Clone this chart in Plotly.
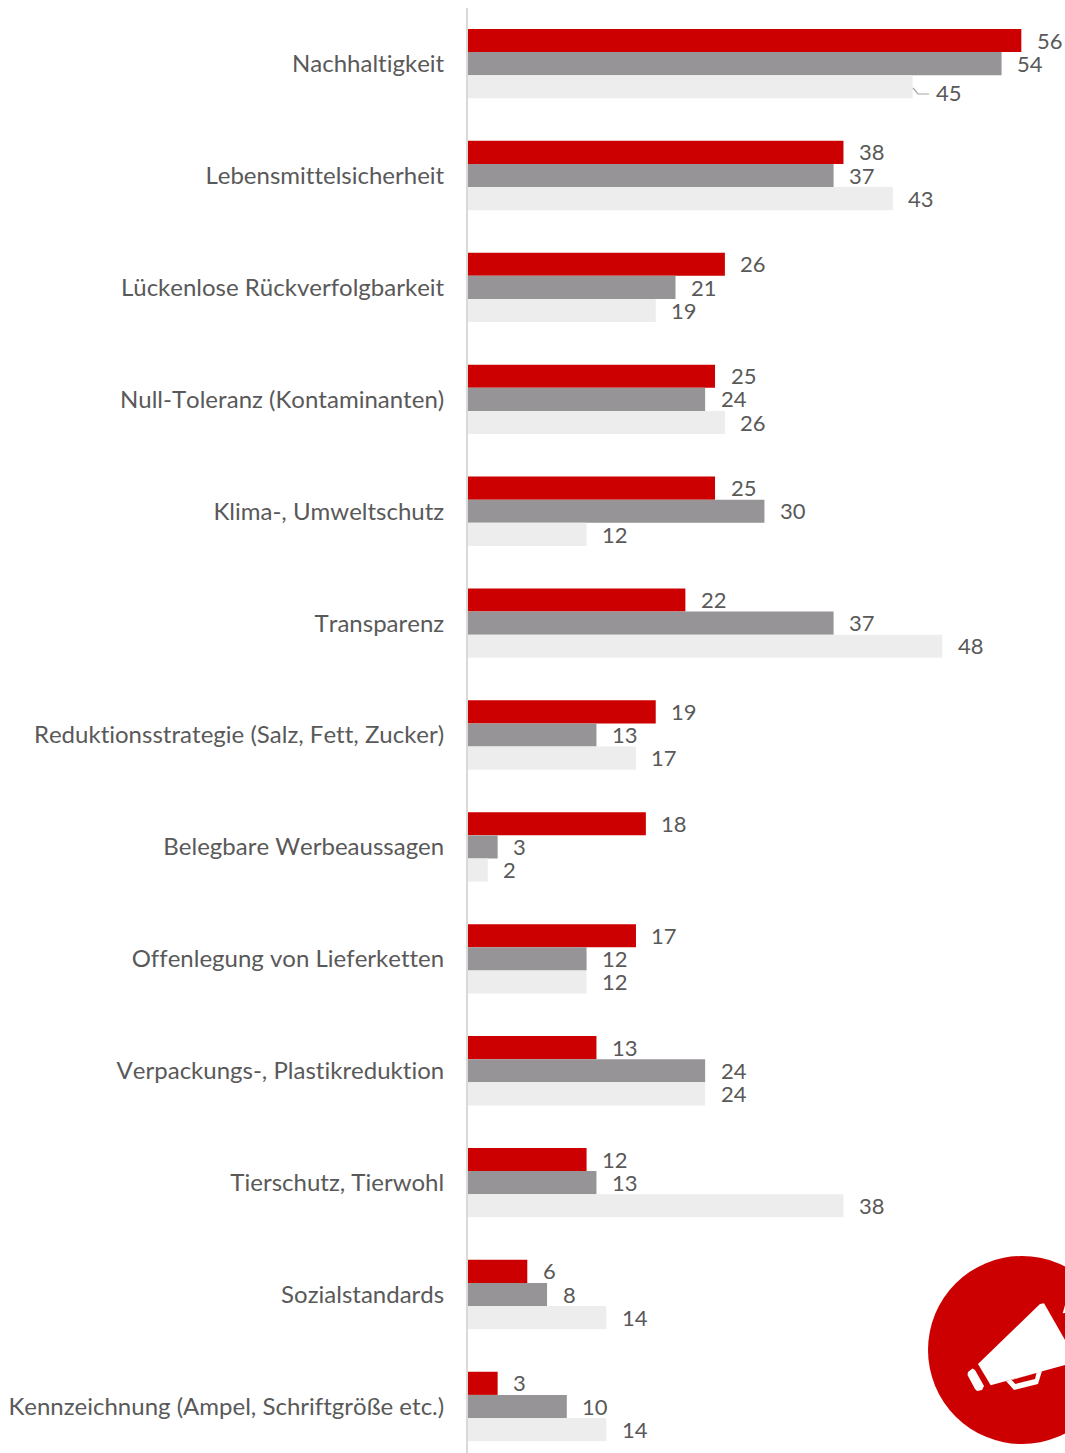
import plotly.graph_objects as go

categories = ["Nachhaltigkeit", "Lebensmittelsicherheit", "Lückenlose Rückverfolgbarkeit",
              "Null-Toleranz (Kontaminanten)", "Klima-, Umweltschutz", "Transparenz",
              "Reduktionsstrategie (Salz, Fett, Zucker)", "Belegbare Werbeaussagen",
              "Offenlegung von Lieferketten", "Verpackungs-, Plastikreduktion",
              "Tierschutz, Tierwohl", "Sozialstandards",
              "Kennzeichnung (Ampel, Schriftgröße etc.)"]
series_a = [56, 38, 26, 25, 25, 22, 19, 18, 17, 13, 12, 6, 3]
series_b = [54, 37, 21, 24, 30, 37, 13, 3, 12, 24, 13, 8, 10]
series_c = [45, 43, 19, 26, 12, 48, 17, 2, 12, 24, 38, 14, 14]

W, H = 1065, 1453
L, T = 468, 8
RED, GREY, LIGHT = "#cc0000", "#969496", "#ededed"
TXT = "#595959"
FONT = "Lato"

def px(x): return (x - L) / (W - L)
def py(y): return (H - y) / (H - T)
def path(points, close=True):
    d = "M" + " L".join(f"{px(x):.5f},{py(y):.5f}" for x, y in points)
    return d + (" Z" if close else "")

fig = go.Figure()
for vals, col in ((series_a, RED), (series_b, GREY), (series_c, LIGHT)):
    fig.add_bar(y=categories, x=vals, orientation="h", marker=dict(color=col, line_width=0))

ann = []
for vals, shift in ((series_a, 23.6), (series_b, 0.4), (series_c, -22.8)):
    for cat, v in zip(categories, vals):
        xs, ys = 13.5, shift
        if cat == categories[0] and vals is series_c:
            xs, ys = 21.5, -29
        ann.append(dict(x=v, y=cat, text=str(v), showarrow=False, xanchor="left", yanchor="middle",
                        xshift=xs, yshift=ys, font=dict(family=FONT, size=22, color=TXT)))

def poly(d, fill):
    return dict(type="path", xref="paper", yref="paper", path=d, fillcolor=fill, line_width=0, layer="above")

shapes = [
    dict(type="circle", xref="paper", yref="paper", x0=px(928), x1=px(1116), y0=py(1444), y1=py(1256),
         fillcolor=RED, line_width=0, layer="above"),
    poly(path([(978, 1364), (1040, 1304), (1044, 1303.3), (1065, 1340), (1065, 1365), (990.7, 1385.3)]), "white"),
    poly(path([(1062.7, 1313.3), (1065, 1305), (1065, 1313)]), "white"),
    poly(path([(1006, 1381), (1014, 1390), (1038, 1384), (1042, 1371)]), "white"),
    poly(path([(1011.5, 1380), (1015.5, 1384), (1035, 1379), (1036.5, 1373)]), RED),
    poly(path([(968, 1372), (972.5, 1368.5), (975, 1370), (984, 1386), (982, 1390), (977, 1391), (975, 1389), (967.5, 1375)]), "white"),
    dict(type="path", xref="paper", yref="paper", path=path([(913, 88), (918, 94), (929, 94)], close=False),
         line=dict(color="#a6a6a6", width=1.2), layer="above"),
]

fig.update_layout(
    width=W, height=H, barmode="group", bargap=0.38, bargroupgap=0,
    paper_bgcolor="white", plot_bgcolor="white", showlegend=False,
    margin=dict(l=L, r=0, t=T, b=0, pad=0),
    annotations=ann, shapes=shapes, font=dict(family=FONT, color=TXT),
    xaxis=dict(range=[0, 60.42], visible=False, fixedrange=True),
    yaxis=dict(type="category", categoryorder="array", categoryarray=categories,
               range=[12.416, -0.497], showline=True, linecolor="#d9d9d9", linewidth=2,
               showgrid=False, zeroline=False, ticks="", ticklabelstandoff=17,
               tickfont=dict(family=FONT, size=24, color=TXT), fixedrange=True),
)
fig.write_html("out.html", config=dict(displayModeBar=False),
               post_script="document.body.style.margin='0';document.body.style.overflow='hidden';"
                           "var s=document.createElement('style');s.textContent='svg text{text-rendering:optimizeSpeed !important;font-kerning:none !important;font-variant-ligatures:none !important}';document.head.appendChild(s);")
